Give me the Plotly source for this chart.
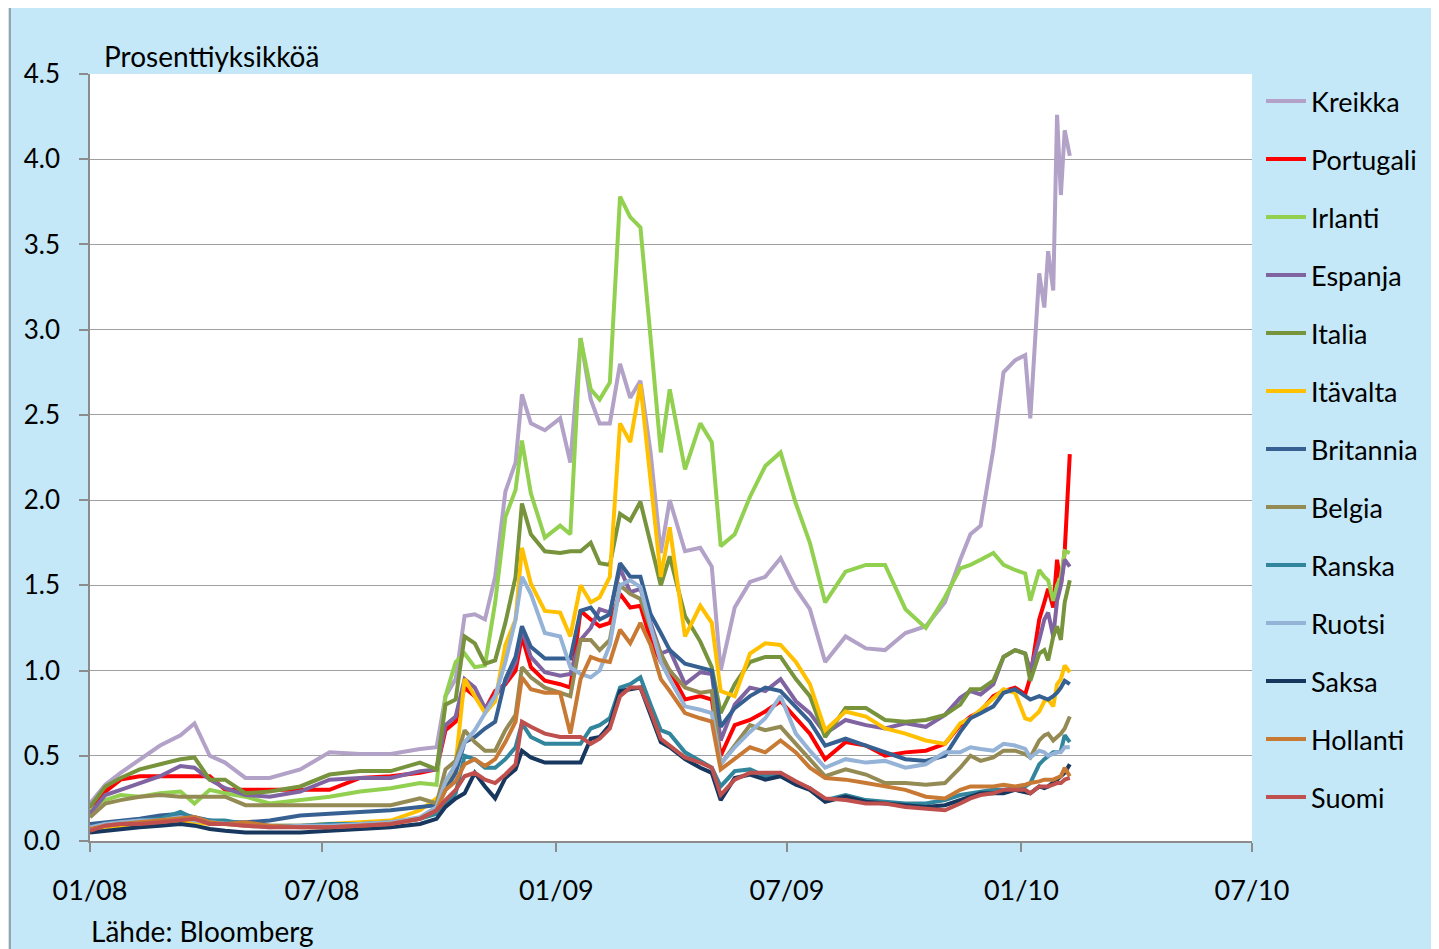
import plotly.graph_objects as go

dates = ["2008-01-01","2008-01-13","2008-01-25","2008-02-09","2008-02-25","2008-03-12","2008-03-23","2008-04-04","2008-04-16","2008-05-02",
"2008-05-21","2008-06-14","2008-07-07","2008-07-31","2008-08-24","2008-09-16","2008-09-29","2008-10-06","2008-10-14","2008-10-21",
"2008-10-29","2008-11-06","2008-11-14","2008-11-22","2008-11-30","2008-12-05","2008-12-12","2008-12-23","2009-01-04","2009-01-12",
"2009-01-20","2009-01-28","2009-02-04","2009-02-12","2009-02-20","2009-02-28","2009-03-08","2009-03-16","2009-03-24","2009-03-31",
"2009-04-12","2009-04-24","2009-05-03","2009-05-10","2009-05-21","2009-06-02","2009-06-14","2009-06-26","2009-07-08","2009-07-19",
"2009-07-31","2009-08-16","2009-09-01","2009-09-16","2009-10-02","2009-10-18","2009-11-02","2009-11-14","2009-11-22","2009-11-30",
"2009-12-10","2009-12-18","2009-12-27","2010-01-04","2010-01-08","2010-01-15","2010-01-19","2010-01-22","2010-01-26","2010-01-29",
"2010-02-01","2010-02-04","2010-02-08"]

kreikka = [0.22,0.33,0.40,0.48,0.56,0.62,0.69,0.50,0.46,0.37,
0.37,0.42,0.52,0.51,0.51,0.54,0.55,0.85,0.95,1.32,
1.33,1.30,1.55,2.05,2.22,2.62,2.45,2.41,2.48,2.22,
2.95,2.59,2.45,2.45,2.80,2.60,2.70,2.28,1.69,2.00,
1.70,1.72,1.61,1.00,1.37,1.52,1.55,1.66,1.48,1.36,
1.05,1.20,1.13,1.12,1.22,1.26,1.40,1.65,1.80,1.85,
2.30,2.75,2.82,2.85,2.48,3.33,3.13,3.46,3.23,4.26,
3.79,4.17,4.02]
portugali = [0.19,0.29,0.36,0.38,0.38,0.38,0.38,0.38,0.30,0.30,
0.30,0.30,0.30,0.37,0.38,0.40,0.42,0.65,0.70,0.90,
0.85,0.77,0.88,0.92,1.00,1.20,1.02,0.94,0.92,0.90,
1.35,1.30,1.26,1.28,1.45,1.37,1.38,1.18,1.05,1.00,
0.83,0.85,0.83,0.50,0.68,0.71,0.76,0.82,0.72,0.63,
0.48,0.58,0.56,0.50,0.52,0.53,0.57,0.68,0.73,0.76,
0.85,0.88,0.90,0.86,0.96,1.30,1.40,1.48,1.37,1.65,
1.50,1.70,2.27]
irlanti = [0.18,0.24,0.27,0.26,0.28,0.29,0.22,0.30,0.28,0.26,
0.22,0.24,0.26,0.29,0.31,0.34,0.33,0.85,1.05,1.10,
1.02,1.03,1.40,1.90,2.06,2.35,2.04,1.78,1.85,1.80,
2.95,2.65,2.59,2.69,3.78,3.66,3.60,2.95,2.28,2.65,
2.18,2.45,2.34,1.73,1.80,2.02,2.20,2.28,1.98,1.75,
1.40,1.58,1.62,1.62,1.36,1.25,1.43,1.60,1.62,1.65,
1.69,1.62,1.59,1.57,1.41,1.59,1.55,1.53,1.41,1.50,
1.55,1.70,1.69]
espanja = [0.16,0.27,0.30,0.34,0.38,0.44,0.43,0.36,0.31,0.27,
0.26,0.29,0.36,0.37,0.37,0.41,0.42,0.68,0.73,0.95,
0.90,0.78,0.85,0.93,1.05,1.24,1.08,0.99,0.97,0.98,
1.18,1.25,1.36,1.34,1.60,1.46,1.48,1.28,1.10,1.12,
0.92,0.99,0.98,0.59,0.80,0.90,0.88,0.95,0.82,0.75,
0.63,0.71,0.68,0.66,0.69,0.67,0.74,0.84,0.88,0.86,
0.92,1.08,1.12,1.10,1.00,1.18,1.30,1.34,1.20,1.41,
1.50,1.65,1.61]
italia = [0.20,0.32,0.37,0.42,0.45,0.48,0.49,0.36,0.36,0.28,
0.29,0.32,0.39,0.41,0.41,0.46,0.42,0.80,0.83,1.20,
1.16,1.04,1.06,1.28,1.55,1.98,1.80,1.70,1.69,1.70,
1.70,1.75,1.63,1.62,1.92,1.88,1.99,1.75,1.50,1.67,
1.32,1.17,1.02,0.75,0.92,1.05,1.08,1.08,0.95,0.85,
0.61,0.78,0.78,0.71,0.70,0.71,0.74,0.80,0.89,0.89,
0.94,1.08,1.12,1.10,0.94,1.10,1.12,1.06,1.20,1.26,
1.18,1.40,1.53]
itavalta = [0.06,0.08,0.09,0.10,0.11,0.12,0.11,0.10,0.10,0.09,
0.09,0.09,0.10,0.11,0.12,0.18,0.25,0.30,0.45,0.95,
0.85,0.75,0.82,1.15,1.30,1.72,1.51,1.35,1.34,1.20,
1.50,1.40,1.43,1.55,2.45,2.34,2.68,2.10,1.55,1.84,
1.20,1.38,1.28,0.88,0.85,1.10,1.16,1.15,1.05,0.92,
0.65,0.76,0.73,0.66,0.63,0.59,0.57,0.69,0.72,0.77,
0.84,0.89,0.87,0.72,0.71,0.76,0.82,0.83,0.79,0.92,
0.95,1.03,0.99]
britannia = [0.10,0.11,0.12,0.13,0.15,0.16,0.14,0.12,0.11,0.11,
0.12,0.15,0.16,0.17,0.18,0.20,0.21,0.30,0.40,0.58,
0.61,0.66,0.70,0.95,1.08,1.26,1.14,1.07,1.07,1.07,
1.35,1.37,1.30,1.33,1.63,1.55,1.55,1.33,1.22,1.12,
1.04,1.02,1.00,0.67,0.78,0.85,0.90,0.88,0.79,0.70,
0.56,0.60,0.56,0.52,0.48,0.47,0.50,0.64,0.72,0.75,
0.79,0.87,0.89,0.85,0.83,0.85,0.84,0.83,0.85,0.87,
0.90,0.94,0.92]
belgia = [0.14,0.22,0.24,0.26,0.27,0.26,0.26,0.26,0.26,0.21,
0.21,0.21,0.21,0.21,0.21,0.25,0.22,0.42,0.47,0.65,
0.58,0.53,0.53,0.65,0.74,1.02,0.96,0.90,0.87,0.85,
1.18,1.18,1.12,1.18,1.50,1.45,1.42,1.25,1.10,1.00,
0.90,0.87,0.88,0.45,0.56,0.68,0.65,0.67,0.57,0.48,
0.38,0.42,0.39,0.34,0.34,0.33,0.34,0.43,0.50,0.47,
0.49,0.53,0.53,0.51,0.49,0.59,0.62,0.63,0.59,0.61,
0.63,0.66,0.73]
ranska = [0.08,0.10,0.11,0.12,0.13,0.17,0.13,0.12,0.12,0.10,
0.09,0.09,0.10,0.10,0.11,0.13,0.16,0.22,0.28,0.50,
0.48,0.43,0.43,0.48,0.55,0.69,0.61,0.57,0.57,0.57,
0.57,0.66,0.68,0.72,0.90,0.92,0.96,0.80,0.65,0.63,
0.52,0.47,0.43,0.32,0.41,0.42,0.38,0.40,0.34,0.31,
0.24,0.27,0.24,0.23,0.22,0.22,0.24,0.27,0.28,0.29,
0.30,0.30,0.31,0.32,0.34,0.45,0.48,0.50,0.52,0.52,
0.53,0.62,0.58]
ruotsi = [0.08,0.10,0.11,0.12,0.12,0.14,0.12,0.11,0.10,0.09,
0.08,0.09,0.09,0.10,0.11,0.14,0.20,0.35,0.45,0.58,
0.65,0.75,0.85,1.05,1.30,1.55,1.45,1.22,1.20,1.02,
0.98,0.96,1.00,1.15,1.50,1.53,1.49,1.26,1.05,0.95,
0.79,0.77,0.75,0.45,0.55,0.64,0.72,0.85,0.63,0.53,
0.43,0.48,0.46,0.47,0.43,0.45,0.52,0.52,0.55,0.54,
0.53,0.57,0.56,0.54,0.49,0.53,0.52,0.50,0.51,0.52,
0.52,0.55,0.55]
saksa = [0.05,0.06,0.07,0.08,0.09,0.10,0.09,0.07,0.06,0.05,
0.05,0.05,0.06,0.07,0.08,0.10,0.13,0.20,0.25,0.28,
0.40,0.32,0.25,0.37,0.42,0.53,0.49,0.46,0.46,0.46,
0.46,0.60,0.61,0.68,0.88,0.89,0.90,0.74,0.58,0.55,
0.48,0.43,0.40,0.24,0.37,0.39,0.36,0.38,0.33,0.30,
0.23,0.26,0.23,0.22,0.21,0.20,0.21,0.24,0.26,0.28,
0.28,0.28,0.30,0.29,0.28,0.32,0.31,0.32,0.34,0.36,
0.38,0.40,0.45]
hollanti = [0.07,0.09,0.10,0.11,0.12,0.13,0.14,0.11,0.10,0.11,
0.09,0.08,0.08,0.09,0.10,0.13,0.18,0.30,0.35,0.45,
0.48,0.44,0.48,0.58,0.70,0.96,0.89,0.87,0.87,0.63,
0.95,1.08,1.06,1.05,1.24,1.16,1.28,1.15,0.95,0.88,
0.75,0.72,0.70,0.42,0.48,0.55,0.52,0.59,0.52,0.43,
0.37,0.36,0.34,0.32,0.30,0.26,0.25,0.30,0.32,0.32,
0.32,0.33,0.32,0.33,0.34,0.35,0.36,0.36,0.36,0.37,
0.38,0.43,0.38]
suomi = [0.06,0.09,0.10,0.10,0.11,0.12,0.13,0.10,0.10,0.09,
0.08,0.08,0.08,0.09,0.10,0.13,0.18,0.24,0.30,0.38,
0.40,0.36,0.34,0.39,0.45,0.70,0.67,0.63,0.61,0.61,
0.61,0.57,0.60,0.66,0.85,0.90,0.90,0.76,0.60,0.56,
0.49,0.46,0.43,0.27,0.36,0.40,0.40,0.40,0.35,0.31,
0.25,0.24,0.22,0.22,0.20,0.19,0.18,0.22,0.25,0.27,
0.28,0.30,0.30,0.30,0.28,0.32,0.32,0.32,0.33,0.34,
0.34,0.36,0.37]

series_names = ["Kreikka","Portugali","Irlanti","Espanja","Italia","Itävalta","Britannia",
                "Belgia","Ranska","Ruotsi","Saksa","Hollanti","Suomi"]
series_values = [kreikka, portugali, irlanti, espanja, italia, itavalta, britannia,
                 belgia, ranska, ruotsi, saksa, hollanti, suomi]
series_colors = ["#B3A2C7","#FF0000","#92D050","#8064A2","#77933C","#FFC000","#376092",
                 "#948A54","#31859C","#95B3D7","#17375E","#C87A34","#C0504D"]

tick_dates = ["2008-01-01","2008-07-01","2009-01-01","2009-07-01","2010-01-01","2010-07-01"]
tick_labels = ["01/08","07/08","01/09","07/09","01/10","07/10"]

FONT = "Lato, Carlito, Calibri, sans-serif"

fig = go.Figure()
for i, (name, vals, col) in enumerate(zip(series_names, series_values, series_colors)):
    fig.add_trace(go.Scatter(x=dates, y=vals, name=name, mode="lines",
                             line=dict(color=col, width=4), legendgroup=f"g{i}"))

# page offset caused by the default 8px body margin of the html page
OFF = 8
W, H = 1439 - OFF, 949 - OFF
# plot area in page pixels
L, R, T, B = 90 - OFF, 1252 - OFF, 74 - OFF, 841 - OFF
pw, ph = R - L, B - T

def px_x(x):
    return (x - OFF - L) / pw

def px_y(y):
    return (B - (y - OFF)) / ph

fig.update_layout(
    width=W, height=H, autosize=False,
    margin=dict(l=L, r=W - R, t=T, b=H - B),
    paper_bgcolor="#c4e8f8",
    plot_bgcolor="#ffffff",
    font=dict(family=FONT, color="#000000", size=24),
    showlegend=True,
    legend=dict(x=px_x(1261), y=px_y(77), xanchor="left", yanchor="top",
                bgcolor="rgba(0,0,0,0)", font=dict(size=27, family=FONT),
                tracegroupgap=19.9, itemwidth=40),
    xaxis=dict(type="date", range=["2008-01-01", "2010-07-01"],
               tickvals=tick_dates, ticktext=tick_labels,
               showgrid=False, showline=True, linecolor="#8c8c8c", linewidth=1.5,
               ticks="outside", ticklen=9, tickcolor="#8c8c8c", tickwidth=1.5,
               tickfont=dict(size=27, family=FONT), ticklabelstandoff=16, zeroline=False),
    yaxis=dict(range=[0, 4.5], dtick=0.5, tick0=0, tickformat=".1f",
               showgrid=True, gridcolor="#a0a0a0", gridwidth=1.3,
               showline=True, linecolor="#8c8c8c", linewidth=1.5,
               ticks="outside", ticklen=9, tickcolor="#8c8c8c", tickwidth=1.5,
               tickfont=dict(size=26, family=FONT), ticklabelstandoff=14, zeroline=False),
    shapes=[dict(type="rect", xref="paper", yref="paper",
                 x0=px_x(10), y0=px_y(1000), x1=px_x(1500), y1=px_y(7),
                 line=dict(color="#8c8c8c", width=1.5), fillcolor="rgba(0,0,0,0)", layer="below")],
    annotations=[
        dict(text="Prosenttiyksikköä", xref="paper", yref="paper", x=px_x(102), y=px_y(75),
             xanchor="left", yanchor="bottom", showarrow=False, font=dict(size=28, family=FONT)),
        dict(text="Lähde: Bloomberg", xref="paper", yref="paper", x=px_x(89), y=px_y(931),
             xanchor="left", yanchor="middle", showarrow=False, font=dict(size=28, family=FONT)),
    ],
)

fig.write_html("out.html")
